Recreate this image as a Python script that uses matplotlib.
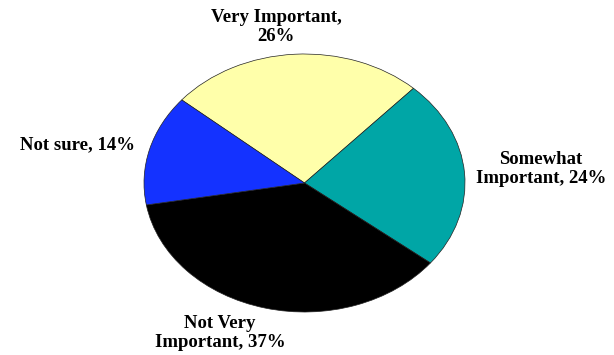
import matplotlib.pyplot as plt

# survey answers, clockwise from the upper left
categories = ['Very Important', 'Somewhat Important', 'Not Very Important', 'Not sure']
shares = [26, 24, 37, 14]
colors = ['#FFFFAA', '#00A6A6', '#000000', '#1432FF']

label_text = ['Very Important,\n26%', 'Somewhat\nImportant, 24%',
              'Not Very\nImportant, 37%', 'Not sure, 14%']
# label centres in pixels (x from left, y from top)
label_px = [(276, 27), (541, 169), (220, 333), (77, 145)]

W, H = 614, 355
fig = plt.figure(figsize=(W / 100, H / 100), dpi=100)
# pie squashed into an ellipse: axes box sized to the ellipse
ax = fig.add_axes([144 / W, (H - 312) / H, 321 / W, 258 / H])
ax.pie(shares, colors=colors, startangle=139.9, counterclock=False,
       wedgeprops=dict(edgecolor='#222222', linewidth=0.5))
ax.set_aspect('auto')
ax.set_xlim(-1, 1)
ax.set_ylim(-1, 1)
ax.axis('off')

for txt, (px, py) in zip(label_text, label_px):
    fig.text(px / W, 1 - py / H, txt, ha='center', va='center',
             fontsize=13.5, fontweight='bold', family='Liberation Serif',
             linespacing=1.1)

fig.savefig('out.png', dpi=100)
